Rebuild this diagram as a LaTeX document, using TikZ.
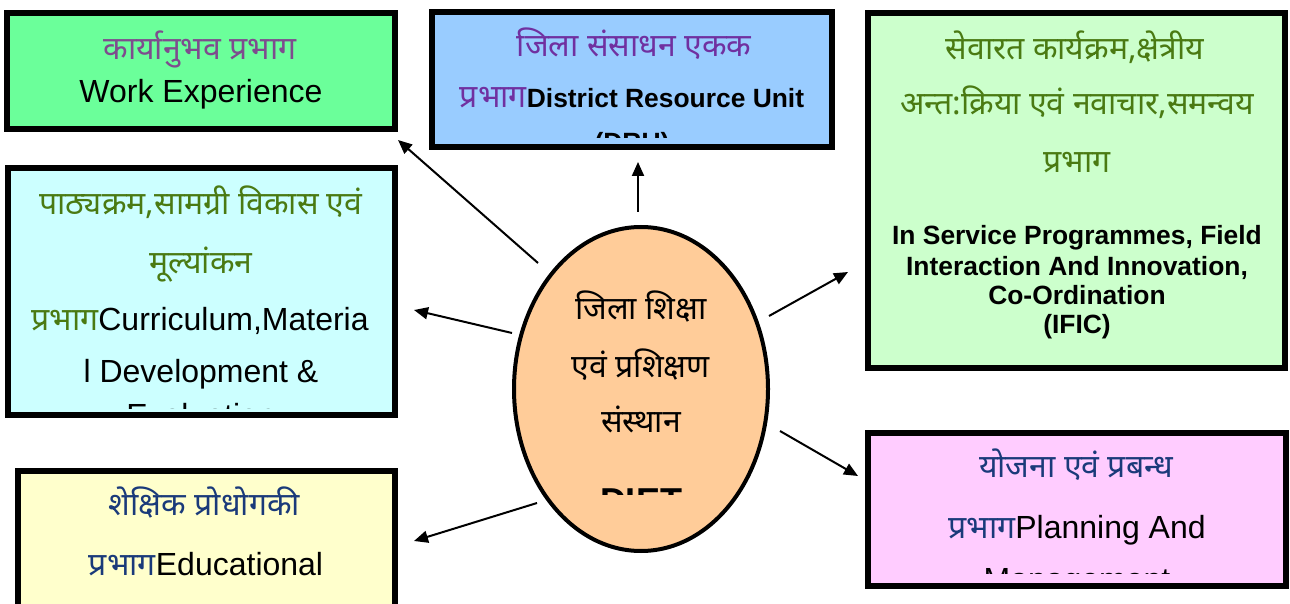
\documentclass[tikz,border=0pt]{standalone}
\usepackage{fontspec}
\setmainfont{Liberation Sans}
\newfontfamily\dev[Script=Devanagari]{Noto Sans}
\usetikzlibrary{arrows.meta,shapes.geometric}
\definecolor{weFill}{HTML}{6BFF9A}
\definecolor{druFill}{HTML}{99CCFF}
\definecolor{ificFill}{HTML}{CCFFCC}
\definecolor{curFill}{HTML}{CCFFFF}
\definecolor{eduFill}{HTML}{FFFFCC}
\definecolor{planFill}{HTML}{FFCCFF}
\definecolor{dietFill}{HTML}{FFCC99}
\definecolor{mauve}{HTML}{7E4C8E}
\definecolor{violet}{HTML}{7030A0}
\definecolor{olive}{HTML}{4A7A12}
\definecolor{navy}{HTML}{1A3A7A}
\newcommand{\devsz}{\dev\fontsize{16}{19}\selectfont\mdseries}
\begin{document}
\begin{tikzpicture}[x=0.5pt,y=-0.5pt,
  frame/.style={draw=black,line width=3pt,inner sep=0pt,rectangle},
  txt/.style={anchor=base,inner sep=0pt,font=\fontsize{16}{19}\selectfont},
  btxt/.style={anchor=base,inner sep=0pt,font=\fontsize{13.2}{15}\selectfont\bfseries},
  dtxt/.style={anchor=base,inner sep=0pt,font=\devsz},
  arr/.style={-{Triangle[length=7pt,width=6pt]},line width=1pt}]
\useasboundingbox (0,0) rectangle (1290,604);

% boxes
\node[frame,fill=weFill,minimum width=194pt,minimum height=58pt] (we) at (201,71) {};
\node[frame,fill=druFill,minimum width=200pt,minimum height=67.5pt] (dru) at (632,79.5) {};
\node[frame,fill=ificFill,minimum width=208.5pt,minimum height=177.5pt] (ific) at (1076.5,190.5) {};
\node[frame,fill=curFill,minimum width=193.5pt,minimum height=123.5pt] (cur) at (201.5,291.5) {};
\node[frame,fill=eduFill,minimum width=188.5pt,minimum height=84.5pt] (edu) at (206.5,555.5) {};
\node[frame,fill=planFill,minimum width=209pt,minimum height=76.5pt] (plan) at (1077,509.5) {};
\node[ellipse,draw=black,line width=2pt,fill=dietFill,inner sep=0pt,minimum width=127pt,minimum height=162pt] (diet) at (641,389) {};

% Work Experience
\node[dtxt,text=mauve] (we1) at (200,60) {कार्यानुभव प्रभाग};
\node[txt] (we2) at (201,103) {Work Experience};

% DRU
\begin{scope}
\clip (436,16) rectangle (828,138);
\node[dtxt,text=violet] (dru1) at (634,57) {जिला संसाधन एकक};
\node[btxt] (dru2) at (632,108) {{\devsz\color{violet}प्रभाग}District Resource Unit};
\node[btxt] (dru3) at (632,152) {(DRU)};
\end{scope}

% IFIC
\node[dtxt,text=olive] (if1) at (1075,60) {सेवारत कार्यक्रम,क्षेत्रीय};
\node[dtxt,text=olive] (if2) at (1077,115) {अन्त:क्रिया एवं नवाचार,समन्वय};
\node[dtxt,text=olive] (if3) at (1077,173) {प्रभाग};
\node[btxt] (if4) at (1077,245) {In Service Programmes, Field};
\node[btxt] (if5) at (1077,276) {Interaction And Innovation,};
\node[btxt] (if6) at (1077,305) {Co-Ordination};
\node[btxt] (if7) at (1077,334) {(IFIC)};

% Curriculum
\begin{scope}
\clip (12,172) rectangle (391,408);
\node[dtxt,text=olive] (cu1) at (201,215) {पाठ्यक्रम,सामग्री विकास एवं};
\node[dtxt,text=olive] (cu2) at (201,273) {मूल्यांकन};
\node[txt] (cu3) at (200,330) {{\devsz\color{olive}प्रभाग}Curriculum,Materia};
\node[txt] (cu4) at (201,382) {l Development \&};
\node[txt] (cu5) at (201,426) {Evaluation};
\end{scope}

% Educational technology
\node[dtxt,text=navy] (ed1) at (204.5,515) {शेक्षिक प्रोधोगकी};
\node[txt] (ed2) at (206,575) {{\devsz\color{navy}प्रभाग}Educational};

% Planning
\begin{scope}
\clip (872,437) rectangle (1282,573);
\node[dtxt,text=navy] (pl1) at (1076,477) {योजना एवं प्रबन्ध};
\node[txt] (pl2) at (1077,538) {{\devsz\color{navy}प्रभाग}Planning And};
\node[txt] (pl3) at (1077,590) {Management};
\end{scope}

% DIET
\node[dtxt] (di1) at (641,320) {जिला शिक्षा};
\node[dtxt] (di2) at (641,377) {एवं प्रशिक्षण};
\node[dtxt] (di3) at (641,432) {संस्थान};
\begin{scope}
\clip (560,470) rectangle (720,494);
\node[anchor=base,inner sep=0pt,font=\fontsize{18}{21}\selectfont\bfseries] (di4) at (641,513) {DIET};
\end{scope}

% arrows
\coordinate (s1) at (538,263); \coordinate (e1) at (398,140);
\coordinate (s2) at (638,212); \coordinate (e2) at (638,162);
\coordinate (s3) at (512,333); \coordinate (e3) at (414,310);
\coordinate (s4) at (537,503); \coordinate (e4) at (414,541);
\coordinate (s5) at (769,316); \coordinate (e5) at (848,272);
\coordinate (s6) at (780,431); \coordinate (e6) at (858,476);
\draw[arr] (s1) -- (e1);
\draw[arr] (s2) -- (e2);
\draw[arr] (s3) -- (e3);
\draw[arr] (s4) -- (e4);
\draw[arr] (s5) -- (e5);
\draw[arr] (s6) -- (e6);
\end{tikzpicture}
\end{document}
